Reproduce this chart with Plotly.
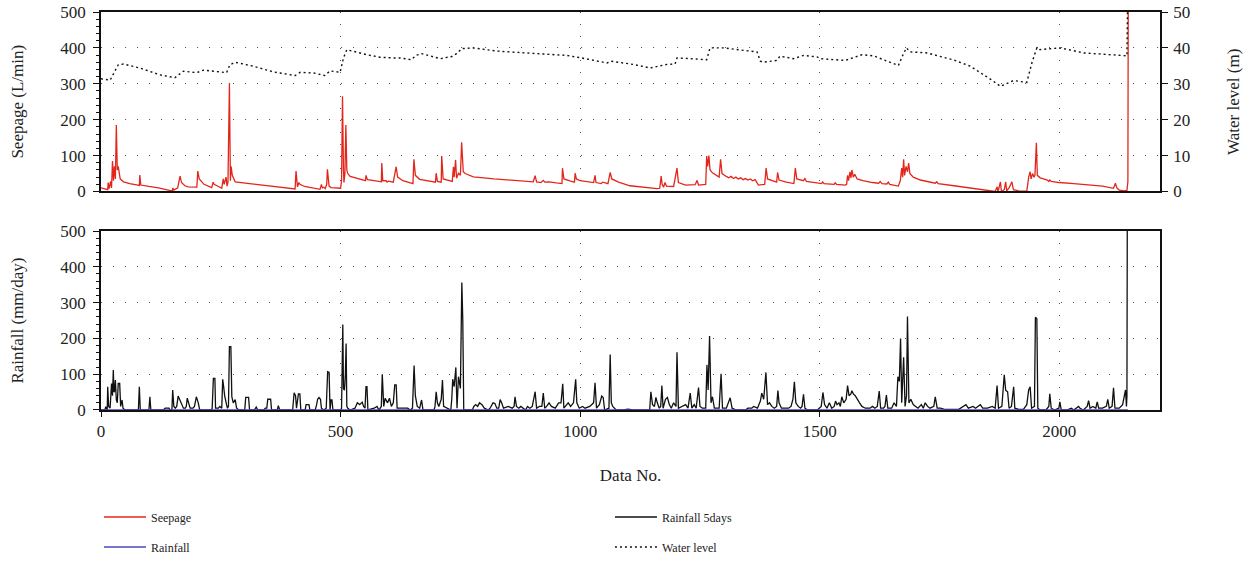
import plotly.graph_objects as go

# ---------------- data ----------------
seep_x = [0, 8, 14, 15, 17, 20, 22, 24, 26, 28, 30, 32, 34, 36, 40, 47, 60, 77, 80, 81, 83, 100, 120, 147, 149, 150, 152, 160,
          165, 168, 175, 182, 190, 200, 202, 205, 215, 231, 234, 236, 245, 252, 255, 257, 259, 261, 263, 265, 268, 270,
          271.5, 274, 280, 300, 350, 405, 407, 409, 410, 413, 415, 425, 440, 457, 459, 460, 462, 465, 468, 471, 472.5, 474,
          476, 480, 500, 502, 504, 506, 507, 509, 511, 513, 515, 520, 535, 550, 552, 553, 556, 570, 585, 586, 588, 595, 597,
          600, 605, 610, 616, 619, 630, 651, 653, 656, 665, 690, 698, 699.5, 702, 710, 711, 714, 725, 733, 735.5, 737, 740,
          742, 746, 750, 752.6, 756, 760, 777, 820, 860, 902, 906, 909, 918, 923, 926, 935, 950, 962, 963, 966, 980, 988,
          989.5, 992, 1000, 1015, 1028, 1031, 1033, 1044, 1047, 1058, 1062.6, 1066, 1080, 1104, 1130, 1146, 1160, 1166,
          1169, 1171, 1174, 1177, 1180, 1195, 1202, 1205, 1220, 1240, 1244, 1247, 1262, 1264, 1266, 1268.6, 1271, 1276,
          1285, 1290, 1293, 1296, 1305, 1310, 1315, 1320, 1325, 1330, 1335, 1340, 1345, 1350, 1355, 1360, 1365, 1370, 1372,
          1385, 1388, 1391, 1400, 1410, 1412, 1415, 1430, 1446, 1449, 1452, 1466, 1469, 1472, 1490, 1504, 1506, 1509, 1530,
          1532, 1535, 1553, 1556, 1558, 1560, 1563, 1565, 1567, 1570, 1573, 1578, 1590, 1610, 1623, 1626, 1630, 1640, 1643,
          1646, 1664, 1668, 1671, 1673, 1675, 1677, 1680, 1683, 1685.5, 1688, 1695, 1710, 1725, 1741, 1744, 1747, 1780,
          1807, 1840, 1863, 1866, 1870, 1872, 1877, 1879, 1885, 1888, 1890, 1895, 1901, 1904, 1915, 1932, 1936, 1939, 1941,
          1944, 1947, 1949, 1952, 1954, 1960, 1975, 1978, 1980, 1983, 2000, 2030, 2060, 2090, 2113, 2117, 2120, 2125, 2135,
          2141, 2143, 2144]
seep_y = [10, 6, 5, 25, 8, 28, 10, 85, 30, 70, 35, 185, 60, 70, 35, 27, 22, 18, 17, 46, 18, 14, 10, 2, 3, 10, 4, 10,
          43, 25, 16, 13, 12, 12, 57, 35, 20, 11, 26, 20, 14, 9, 35, 20, 30, 40, 15, 25, 302, 30,
          70, 45, 27, 24, 17, 7, 57, 20, 13, 25, 20, 14, 10, 6, 15, 20, 10, 12, 8, 20, 62, 30,
          15, 11, 9, 30, 265, 60, 25, 50, 185, 60, 50, 42, 37, 32, 30, 45, 33, 30, 27, 79, 30, 30, 26,
          29, 27, 26, 69, 40, 30, 22, 90, 45, 34, 28, 26, 51, 28, 26, 99, 35, 30, 28, 69, 40, 88,
          37, 51, 45, 137, 55, 50, 41, 35, 31, 27, 44, 27, 25, 31, 26, 27, 24, 22, 65, 35, 29, 26,
          51, 35, 30, 27, 25, 45, 25, 22, 26, 22, 53, 35, 26, 16, 12, 9, 8, 9,
          43, 20, 12, 25, 15, 14, 65, 25, 18, 19, 31, 18, 20, 99, 70, 100, 60, 52,
          44, 40, 90, 50, 42, 38, 42, 36, 40, 35, 38, 33, 36, 32, 35, 30, 33, 24, 18,
          20, 65, 35, 30, 26, 53, 32, 26, 22, 65, 35, 30, 36, 28, 24, 22, 27, 22, 20,
          24, 20, 18, 20, 45, 30, 55, 38, 60, 40, 48, 35, 30, 25, 23, 28, 22, 21, 26,
          20, 15, 30, 65, 40, 90, 45, 70, 55, 79, 50, 40, 32, 27, 23, 27, 22, 16,
          11, 6, 2, 0, 13, 0, 27, 0, 5, 27, 2, 10, 27, 5, 2, 1, 40, 55, 35,
          50, 40, 45, 136, 45, 38, 32, 28, 32, 28, 25, 22, 19, 15, 9, 23, 10, 4, 2,
          3, 27, 700]

wl_x = [0, 19, 36, 47, 81, 123, 154, 172, 200, 214, 235, 262, 269, 280, 318, 360, 405, 416, 444, 467, 478, 499, 506,
        513, 555, 582, 610, 624, 648, 657, 669, 708, 732, 742, 753, 777, 826, 902, 972, 1003, 1056, 1064, 1111, 1146,
        1181, 1198, 1202, 1230, 1264, 1271, 1299, 1355, 1369, 1376, 1382, 1410, 1417, 1445, 1466, 1494, 1501, 1553,
        1588, 1612, 1664, 1675, 1681, 1688, 1724, 1780, 1814, 1856, 1877, 1904, 1932, 1943, 1953, 1957, 2002, 2051,
        2113, 2141, 2144]
wl_y = [31.4, 31, 35.3, 35.5, 34.4, 32.5, 31.7, 33.5, 33.1, 33.8, 33.5, 33.1, 35.3, 36, 34.9, 33.3, 32.3, 33.2, 33,
        32.3, 33.6, 33.2, 37.2, 39.5, 38.1, 37.4, 37.2, 37.2, 36.7, 37.9, 38.4, 37, 37.6, 38.4, 39.8, 40, 39.1, 38.4,
        37.9, 37.2, 35.8, 36.3, 35.4, 34.4, 35.4, 35.5, 37.2, 37, 36.7, 40, 40, 39.1, 38.9, 36.3, 36, 36.5, 37.7, 37,
        37.9, 37.5, 37, 36.5, 38.1, 37.8, 35.1, 38.5, 40, 38.9, 38.6, 36.6, 34.9, 31.3, 29.3, 30.9, 30.4, 36, 40,
        39.5, 40, 38.6, 38.1, 37.8, 70]

r5_x = [0, 8, 10, 13, 14, 16, 19, 22, 24, 25.7, 27, 28, 30, 32, 34, 36, 39, 41, 44, 46, 50, 78, 80, 82, 100, 102, 104,
        130, 134, 142, 144, 148, 149.6, 152, 155, 158, 161, 165, 168, 172, 176, 178, 180, 183, 186, 192, 195, 199, 203,
        206, 230, 232, 234.5, 237.7, 239, 245, 248, 252, 254, 256, 258, 262, 264, 266, 268, 271, 273, 276, 280, 283,
        288, 300, 302, 308, 310, 320, 324, 327, 340, 343, 346, 348, 354, 356, 368, 370, 373, 400, 403, 406, 408, 412,
        415, 417, 426, 428, 434, 436, 447, 450, 452, 455, 458, 460, 465, 470, 473, 476, 478, 480, 482, 484, 500, 502,
        504.6, 506, 508, 510, 511.5, 513, 515, 520, 530, 535, 540, 545, 548, 551, 553, 555, 557, 570, 576, 580, 585,
        587, 590, 593, 598, 602, 606, 610, 613, 616, 618, 640, 645, 650, 652, 653.4, 656, 660, 665, 669, 672, 695, 697,
        699.5, 702, 705, 710, 712.6, 715, 730, 732, 734, 737, 740.5, 743, 746, 750, 753, 755, 757, 775, 778, 782, 786,
        790, 795, 800, 808, 812, 818, 822, 826, 830, 833, 836, 840, 850, 858, 862, 864, 867, 872, 876, 880, 886, 890,
        895, 900, 906, 909, 915, 920, 923, 926, 930, 935, 940, 948, 955, 960, 963.6, 966, 975, 980, 986, 990.6, 993,
        998, 1005, 1010, 1020, 1028, 1031, 1034, 1040, 1045, 1048, 1051, 1060, 1062.6, 1065, 1068, 1075, 1090, 1095,
        1100, 1110, 1145, 1147.5, 1151, 1155, 1158, 1161, 1165, 1168, 1170.5, 1173, 1178, 1182, 1186, 1190, 1195, 1200,
        1202, 1205, 1212, 1220, 1225, 1229.6, 1233, 1238, 1242, 1247, 1250, 1255, 1262, 1264.5, 1267, 1270, 1273,
        1276, 1280, 1290, 1294, 1297, 1305, 1310, 1313, 1317, 1325, 1345, 1350, 1358, 1362, 1370, 1376, 1379, 1383,
        1387.6, 1391, 1395, 1400, 1405, 1410, 1412.6, 1415, 1420, 1435, 1440, 1444, 1447, 1450, 1455, 1460, 1463,
        1466, 1469, 1475, 1495, 1500, 1503, 1506.6, 1510, 1515, 1520, 1525, 1530, 1533, 1536, 1540, 1543, 1546, 1550,
        1555, 1558, 1561, 1565, 1567, 1570, 1574, 1578, 1583, 1588, 1595, 1605, 1610, 1615, 1620, 1624, 1627, 1633,
        1636, 1639, 1642, 1650, 1655, 1660, 1663, 1666, 1668.6, 1671, 1675, 1678, 1681, 1683, 1686, 1690, 1695, 1700,
        1705, 1712, 1716, 1720, 1725, 1730, 1738, 1741, 1745, 1752, 1760, 1790, 1800, 1805, 1810, 1820, 1825, 1835,
        1840, 1850, 1860, 1866, 1870, 1873, 1880, 1885, 1888, 1892, 1895, 1900, 1904.6, 1907, 1915, 1925, 1932,
        1935.9, 1939, 1942, 1948, 1950, 1953, 1955, 1960, 1972, 1978, 1980, 1983, 1990, 1999, 2001, 2004, 2015, 2025,
        2030, 2040, 2043, 2050, 2058, 2061, 2064, 2070, 2076, 2079, 2082, 2090, 2098, 2101, 2104, 2110, 2113, 2116,
        2125, 2132, 2138, 2140, 2141, 2142]
r5_y = [0, 0, 9, 0, 65, 10, 5, 74, 40, 112, 50, 51, 84, 28, 20, 74, 74, 10, 28, 5, 0, 0, 65, 0, 0, 37, 0,
        0, 5, 5, 0, 0, 56, 10, 5, 10, 39, 26, 15, 5, 5, 10, 33, 20, 5, 5, 10, 37, 20,
        0, 0, 5, 88, 88, 5, 5, 10, 5, 86, 65, 40, 15, 5, 10, 177, 177, 37, 20, 29, 5,
        0, 0, 35, 35, 0, 0, 8, 0, 0, 5, 5, 30, 30, 0, 0, 12, 0, 0, 48, 40, 5, 45,
        45, 0, 0, 15, 15, 0, 0, 15, 30, 35, 30, 5, 0, 5, 107, 105, 0, 28, 28, 0, 0, 5,
        239, 60, 55, 100, 186, 10, 5, 0, 5, 20, 15, 22, 10, 5, 65, 65, 0, 5, 10, 0, 10,
        100, 10, 33, 20, 33, 10, 20, 70, 70, 5, 5, 0, 5, 107, 124, 40, 10, 5, 28, 0, 0, 10,
        51, 20, 10, 30, 84, 10, 0, 30, 86, 65, 119, 5, 93, 60, 356, 250, 0, 0, 10, 15, 10,
        20, 15, 5, 0, 5, 20, 18, 5, 5, 29, 20, 5, 10, 5, 10, 37, 10, 5, 10, 5, 0, 10,
        5, 10, 51, 5, 10, 10, 47, 5, 10, 20, 10, 5, 20, 20, 73, 5, 20, 10, 20, 86, 20,
        5, 10, 5, 10, 20, 76, 5, 15, 39, 35, 0, 5, 155, 20, 10, 0, 0, 2,
        2, 0, 0, 51, 15, 10, 35, 20, 5, 10, 68, 5, 30, 35, 15, 5, 20, 10,
        161, 5, 10, 15, 5, 47, 5, 15, 5, 63, 10, 5, 5, 126, 56, 207, 20,
        37, 5, 5, 101, 5, 5, 20, 34, 5, 0, 0, 5, 5, 10, 5, 25, 47, 30,
        105, 15, 20, 10, 5, 10, 54, 20, 5, 5, 10, 30, 79, 20, 10, 5, 10,
        44, 5, 0, 0, 5, 10, 49, 15, 5, 20, 5, 10, 25, 15, 20, 10, 37, 20,
        30, 68, 40, 45, 54, 45, 40, 30, 20, 10, 5, 5, 10, 5, 10, 53, 5, 5,
        10, 42, 5, 5, 20, 10, 93, 80, 200, 20, 147, 10, 40, 261, 20, 30, 15, 10,
        5, 15, 5, 20, 10, 5, 10, 37, 5, 5, 2, 2, 10, 15, 5, 10, 5, 15,
        5, 5, 10, 5, 68, 5, 10, 98, 55, 51, 5, 10, 65, 5, 2, 2, 15,
        56, 65, 5, 10, 259, 255, 5, 0, 0, 10, 45, 5, 0, 5, 23, 0, 0, 5,
        0, 10, 5, 0, 10, 26, 5, 10, 5, 23, 5, 5, 10, 30, 5, 10, 62, 5,
        5, 15, 56, 10, 40, 700]

rain_x = [0, 2143]
rain_y = [0, 0]

x_ticks = [0, 500, 1000, 1500, 2000]

# ---------------- figure ----------------
RED = "#e3261b"
BLUE = "#4848c0"
BLACK = "#111111"
AX_FONT = dict(family="Liberation Serif", size=17, color="#222")
LEG_FONT = dict(family="Liberation Serif", size=12, color="#222")

fig = go.Figure()
fig.add_trace(go.Scatter(x=seep_x, y=seep_y, mode="lines", name="Seepage",
                         line=dict(color=RED, width=1.3), xaxis="x", yaxis="y", legend="legend"))
fig.add_trace(go.Scatter(x=wl_x, y=wl_y, mode="lines", name="Water level",
                         line=dict(color=BLACK, width=1.4, dash="2px,3px"), xaxis="x", yaxis="y2",
                         legend="legend4"))
fig.add_trace(go.Scatter(x=r5_x, y=r5_y, mode="lines", name="Rainfall 5days",
                         line=dict(color=BLACK, width=1.3), xaxis="x3", yaxis="y3", legend="legend3"))
fig.add_trace(go.Scatter(x=rain_x, y=rain_y, mode="lines", name="Rainfall",
                         line=dict(color=BLUE, width=1.5), xaxis="x3", yaxis="y3", legend="legend2"))

grid = dict(showgrid=True, gridcolor="#555", griddash="1.3px,10.7px", gridwidth=1.3)
yleft = dict(range=[0, 500], tickvals=[0, 100, 200, 300, 400, 500], ticks="outside", ticklen=6,
             tickwidth=1.2, tickcolor="#111", showline=True, linecolor="#111", linewidth=1.5,
             minor=dict(dtick=20, ticklen=3, tickcolor="#111", ticks="outside", showgrid=False),
             tickfont=AX_FONT, zeroline=False, automargin=False, ticklabelstandoff=4,
             ticklabeloverflow="allow", **grid)

leg_common = dict(xanchor="left", yanchor="middle", font=LEG_FONT,
                  bgcolor="rgba(0,0,0,0)", itemwidth=42)

fig.update_layout(
    width=1256, height=563,
    margin=dict(l=101, r=96, t=12, b=153, autoexpand=False),
    plot_bgcolor="white", paper_bgcolor="white",
    font=AX_FONT,
    xaxis=dict(domain=[0, 1], range=[0, 2210], anchor="y", tickvals=x_ticks, showticklabels=False,
               ticks="", showline=True, linecolor="#111", linewidth=1.5, mirror=True, zeroline=False,
               automargin=False, **grid),
    yaxis=dict(domain=[0.549, 1], anchor="x",
               title=dict(text="Seepage (L/min)", font=AX_FONT, standoff=32), **yleft),
    yaxis2=dict(overlaying="y", side="right", anchor="x", range=[0, 50], tickvals=[0, 10, 20, 30, 40, 50],
                ticks="outside", ticklen=6, tickwidth=1.2, tickcolor="#111", showline=True, linecolor="#111",
                linewidth=1.5, showgrid=False, zeroline=False, tickfont=AX_FONT, automargin=False,
                ticklabelstandoff=2, ticklabeloverflow="allow",
                title=dict(text="Water level (m)", font=AX_FONT, standoff=38)),
    xaxis3=dict(domain=[0, 1], range=[0, 2210], anchor="y3", tickvals=x_ticks, ticks="outside", ticklen=5,
                tickwidth=1.2, tickcolor="#111", showline=True, linecolor="#111", linewidth=1.5, mirror=True,
                zeroline=False, tickfont=AX_FONT, automargin=False, ticklabeloverflow="allow",
                title=dict(text="Data No.", font=AX_FONT, standoff=29), **grid),
    yaxis3=dict(domain=[0, 0.4497], anchor="x3", mirror=True,
                title=dict(text="Rainfall (mm/day)", font=AX_FONT, standoff=32), **yleft),
    legend=dict(x=-0.0019, y=-0.2688, **leg_common),
    legend2=dict(x=-0.0019, y=-0.3442, **leg_common),
    legend3=dict(x=0.4806, y=-0.2688, **leg_common),
    legend4=dict(x=0.4806, y=-0.3442, **leg_common),
    showlegend=True,
)

# remove the browser's default page margin so the 1256x563 figure fills the window exactly
fig.write_html("out.html", config={"displayModeBar": False},
               post_script="document.documentElement.style.margin='0';document.body.style.margin='0';"
                           "document.body.style.overflow='hidden';")
